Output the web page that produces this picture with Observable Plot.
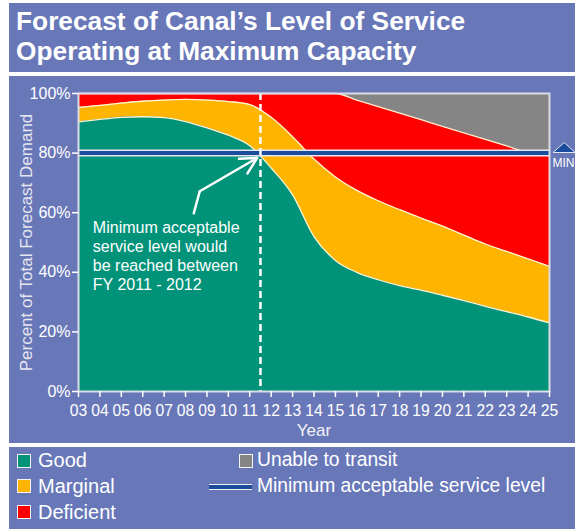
<!DOCTYPE html>
<html>
<head>
<meta charset="utf-8">
<script src="https://cdn.jsdelivr.net/npm/d3@7"></script>
<script src="https://cdn.jsdelivr.net/npm/@observablehq/plot@0.6"></script>
<style>
  html, body { margin:0; padding:0; background:#ffffff; width:575px; height:529px; overflow:hidden;
    font-family:"Liberation Sans", Arial, Helvetica, sans-serif; }
  .panel { position:absolute; left:9px; right:0; background:#6877b8; }
  #title { top:3px; height:69px; }
  #chartbg { top:76px; height:367px; }
  #legendbg { top:447px; height:82px; }
  .tline { position:absolute; left:16px; color:#fff; font-weight:bold; font-size:26.3px; line-height:30px; white-space:nowrap; }
  #chart { position:absolute; left:0; top:76px; width:575px; height:367px; }
  .lg { position:absolute; color:#fff; font-size:20px; line-height:26px; white-space:nowrap; }
  .sw { position:absolute; width:14px; height:14px; box-sizing:border-box; border:1.5px solid #f4f4f8; }
  .ln { position:absolute; height:6px; box-sizing:border-box; border-top:1px solid #f0f0f6; border-bottom:1px solid #f0f0f6; background:#1c4c9c; }
</style>
</head>
<body>
<div class="panel" id="title"></div>
<div class="panel" id="chartbg"></div>
<div class="panel" id="legendbg"></div>
<div class="tline" style="top:6px">Forecast of Canal’s Level of Service</div>
<div class="tline" style="top:36px">Operating at Maximum Capacity</div>
<div id="chart"></div>
<div id="legend"></div>
<script>
// ---- data ----
const years = [3,4,5,6,7,8,9,10,11,12,13,14,15,16,17,18,19,20,21,22,23,24,25];
// cumulative tops of each band (% of total forecast demand)
const good      = [90.5,91.3,92,92.2,91.9,90.6,88.5,86,82.5,75,66,52,44,40,37.5,35.5,34,32.3,30.5,28.6,26.8,25,23];
const marginal  = [95.3,96,96.8,97.4,97.8,98,97.8,97.3,96.3,92,85.5,78,72,67.5,64,61,58.2,55.5,52.5,49.5,47,44.5,42];
const deficient = [100,100,100,100,100,100,100,100,100,100,100,100,100,97.8,95.6,93.4,91.2,89,86.8,84.6,82.4,80.2,79.5];
const yTicks = [0,20,40,60,80,100];
const minLevel = 80;
const reachedYear = 11.5;
const noteText = "Minimum acceptable\nservice level would\nbe reached between\nFY 2011 - 2012";
const noteAnchor = {year:3.67, pct:57.6};
const arrowPts = [{year:8.385, pct:59.8},{year:8.665, pct:67.2},{year:11.35, pct:78.4}];
const legendItems = [
  {label:"Good", color:"#00937a"},
  {label:"Marginal", color:"#ffb400"},
  {label:"Deficient", color:"#ff0000"},
  {label:"Unable to transit", color:"#858585"},
  {label:"Minimum acceptable service level", color:"#1c4c9c"}
];

const C = {good:"#00937a", marginal:"#ffb400", deficient:"#ff0000", unable:"#858585", blue:"#1c4c9c", edge:"#fff4d0"};
const rows = years.map((y,i)=>({year:y, good:good[i], marginal:marginal[i], deficient:deficient[i]}));
const curve = "monotone-x";
const flatTri = { draw(ctx){ ctx.moveTo(-11,5); ctx.lineTo(0,-5); ctx.lineTo(11,5); ctx.closePath(); } };

const chart = Plot.plot({
  width:575, height:367,
  marginLeft:78, marginRight:26, marginTop:17, marginBottom:52,
  x:{domain:[3,25]},
  y:{domain:[0,100]},
  style:{color:"white", background:"transparent", fontFamily:"'Liberation Sans', Arial, sans-serif", fontSize:"16px", overflow:"visible"},
  marks:[
    Plot.areaY(rows,{x:"year", y1:"deficient", y2:()=>100, fill:C.unable, curve}),
    Plot.areaY(rows,{x:"year", y1:"marginal", y2:"deficient", fill:C.deficient, curve}),
    Plot.areaY(rows,{x:"year", y1:"good", y2:"marginal", fill:C.marginal, curve}),
    Plot.areaY(rows,{x:"year", y1:()=>0, y2:"good", fill:C.good, curve}),
    Plot.lineY(rows,{x:"year", y:"good", stroke:C.edge, strokeWidth:1.3, curve}),
    Plot.lineY(rows,{x:"year", y:"marginal", stroke:C.edge, strokeWidth:1.3, curve}),
    Plot.lineY(rows,{x:"year", y:"deficient", stroke:C.edge, strokeWidth:1.3, curve}),
    Plot.ruleY([minLevel],{stroke:"#e6e6f0", strokeWidth:7}),
    Plot.ruleY([minLevel],{stroke:C.blue, strokeWidth:4}),
    Plot.ruleX([reachedYear],{stroke:"white", strokeWidth:2.5, strokeDasharray:"7,4"}),
    Plot.frame({stroke:"#dcdce8", strokeWidth:2}),
    Plot.axisX(years,{tickSize:6, tickPadding:7, strokeWidth:1.5, fontSize:15.7, label:null,
      tickFormat:d=>String(d).padStart(2,"0")}),
    Plot.axisY(yTicks,{tickSize:6, tickPadding:2, strokeWidth:1.5, fontSize:16, label:null,
      tickFormat:d=>d+"%"}),
    Plot.text(["Percent of Total Forecast Demand"],{frameAnchor:"left", textAnchor:"middle", lineAnchor:"middle", rotate:-90, dx:-52, fontSize:17, fill:"#e6e6f0", text:d=>d}),
    Plot.text(["Year"],{frameAnchor:"bottom", lineAnchor:"top", dy:32, fontSize:17, fill:"#f2f2f6", text:d=>d}),
    Plot.text([noteText],{x:()=>noteAnchor.year, y:()=>noteAnchor.pct, text:d=>d, textAnchor:"start", lineAnchor:"top", fontSize:16, lineHeight:1.19, fill:"white"}),
    Plot.line(arrowPts.slice(0,2),{x:"year", y:"pct", stroke:"white", strokeWidth:2.5}),
    Plot.arrow([arrowPts],{x1:d=>d[1].year, y1:d=>d[1].pct, x2:d=>d[2].year, y2:d=>d[2].pct, stroke:"white", strokeWidth:2.5, headLength:11, headAngle:55}),
    Plot.dot([minLevel],{x:()=>25, y:d=>d, symbol:flatTri, r:8, fill:C.blue, stroke:"#e6e6f0", strokeWidth:1, dx:14.7, dy:-5.6}),
    Plot.text(["MIN"],{x:()=>25, y:()=>minLevel, text:d=>d, textAnchor:"start", lineAnchor:"top", dx:3, dy:5, fontSize:12, fill:"white"})
  ]
});
document.getElementById("chart").appendChild(chart);

// ---- legend (HTML) ----
const lg = document.getElementById("legend");
const pos = [
  {sx:17, sy:454, tx:38, ty:447, fs:20},
  {sx:17, sy:479, tx:38, ty:473, fs:20},
  {sx:17, sy:505, tx:38, ty:499, fs:20},
  {sx:239, sy:454, tx:257, ty:447, fs:19.3},
  {sx:209, sy:483.5, tx:257, ty:473, fs:19.3, line:true}
];
legendItems.forEach((it,i)=>{
  const p = pos[i];
  const s = document.createElement("div");
  if (p.line) { s.className="ln"; s.style.left=p.sx+"px"; s.style.top=p.sy+"px"; s.style.width="43px"; }
  else { s.className="sw"; s.style.left=p.sx+"px"; s.style.top=p.sy+"px"; s.style.background=it.color; }
  lg.appendChild(s);
  const t = document.createElement("div");
  t.className="lg"; t.style.left=p.tx+"px"; t.style.top=p.ty+"px"; t.style.fontSize=p.fs+"px"; t.textContent=it.label;
  lg.appendChild(t);
});
</script>
</body>
</html>
